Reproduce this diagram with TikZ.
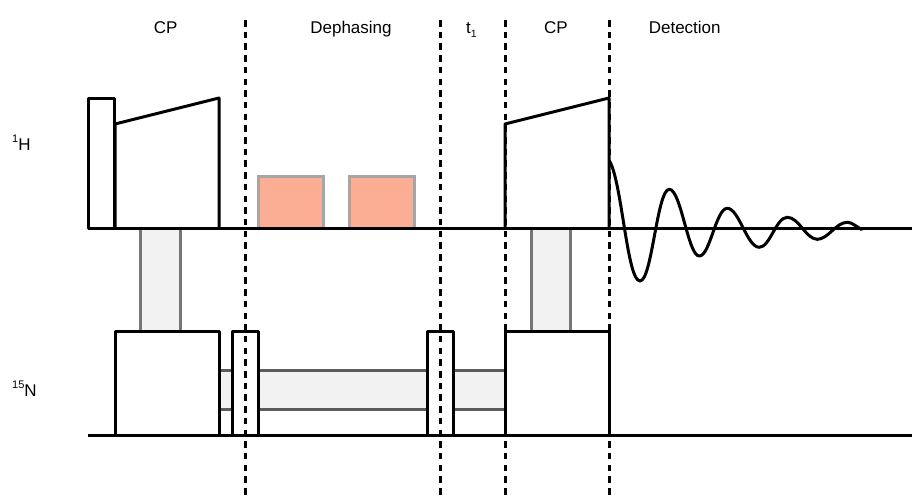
\documentclass[tikz,border=0pt]{standalone}
\usepackage{fontspec}
\setmainfont{Liberation Sans}
\definecolor{pulsegrey}{HTML}{F2F2F2}
\definecolor{bandedge}{HTML}{767676}
\definecolor{bandedgedark}{HTML}{5C5C5C}
\definecolor{dephfill}{HTML}{FBAE94}
\definecolor{dephedge}{HTML}{A6A6A6}
\newcommand{\scriptup}[1]{\raisebox{8pt}{\fontsize{11}{11}\selectfont #1}}
\newcommand{\scriptdown}[1]{\raisebox{-4pt}{\fontsize{10.5}{11}\selectfont #1}}
\tikzset{
  blk/.style={line width=3pt,black,line join=round},
  whitepulse/.style={blk,fill=white},
  transfer/.style={line width=3pt,draw=bandedge,fill=pulsegrey},
  dephpulse/.style={line width=3pt,draw=dephedge,fill=dephfill},
  divider/.style={line width=3pt,black,dash pattern=on 6.5pt off 5.2pt},
  lab/.style={font=\fontsize{17}{20}\selectfont,anchor=base,inner sep=0pt}
}
\begin{document}
\begin{tikzpicture}[x=1pt,y=-1pt]
\useasboundingbox (0,0) rectangle (912,496);
% transfer bands
\draw[transfer] (140.5,228) rectangle (180,331);
\draw[transfer] (531,228) rectangle (570,331);
\draw[transfer,draw=bandedgedark] (219,370.5) rectangle (505,409.5);
% 1H pulses
\draw[whitepulse] (88.7,228) rectangle (114.7,98);
\draw[whitepulse] (115,228) -- (115,124) -- (219,98) -- (219,228);
\draw[whitepulse] (505,228) -- (505,124) -- (609,98) -- (609,228);
\draw[dephpulse] (258,228) rectangle (323,176);
\draw[dephpulse] (349,228) rectangle (414,176);
% 15N pulses
\draw[whitepulse] (115,435.5) rectangle (219,331.5);
\draw[whitepulse] (232,435.5) rectangle (258,331.5);
\draw[whitepulse] (427,435.5) rectangle (453,331.5);
\draw[whitepulse] (505,435.5) rectangle (609,331.5);
% baselines
\draw[blk] (88,228) -- (912,228);
\draw[blk] (88,435.5) -- (912,435.5);
% dividers
\foreach \dx in {245,440,505,609} \draw[divider] (\dx,20) -- (\dx,496);
% FID
\draw[blk,line cap=round] (609.5,161)
  .. controls (622,182) and (627,281) .. (640,281)
  .. controls (652,281) and (657,189.3) .. (669.3,189.3)
  .. controls (681,189.3) and (688,256) .. (699.3,256)
  .. controls (710,256) and (716,208.3) .. (727.3,208.3)
  .. controls (739,208.3) and (747,247.3) .. (759.3,247.3)
  .. controls (770,247.3) and (776,217.3) .. (787.3,217.3)
  .. controls (799,217.3) and (806,239.3) .. (817.3,239.3)
  .. controls (828,239.3) and (836,222.3) .. (847.3,222.3)
  .. controls (852,222.3) and (857,227) .. (861.5,229.5);
% labels
\node[lab] (cpa) at (165.7,33) {CP};
\node[lab] (deph) at (351,33) {Dephasing};
\node[lab,anchor=base west] (tone) at (466,33) {t\scriptdown{1}};
\node[lab] (cpb) at (556,33) {CP};
\node[lab] (det) at (684.7,33) {Detection};
\node[lab,anchor=base west] (hlab) at (12,150) {\scriptup{1}H};
\node[lab,anchor=base west] (nlab) at (12,396) {\scriptup{15}N};
\end{tikzpicture}
\end{document}
